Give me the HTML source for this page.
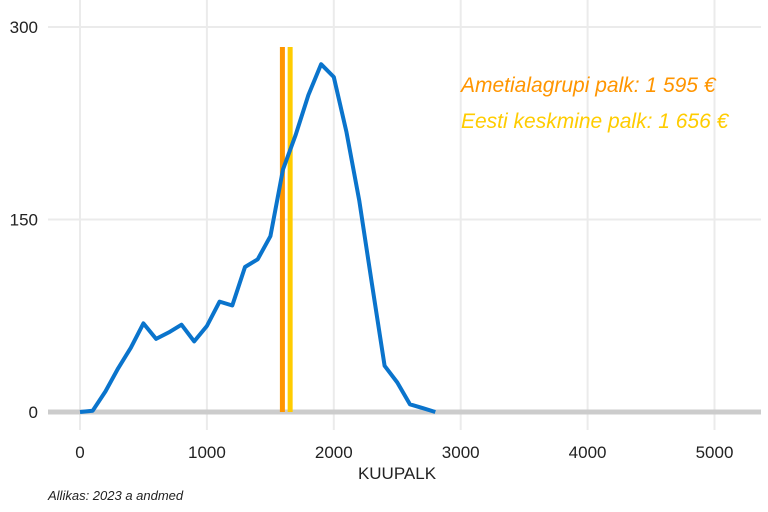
<!DOCTYPE html>
<html><head><meta charset="utf-8">
<style>
html,body{margin:0;padding:0;background:#fff;}
svg{display:block;font-family:"Liberation Sans",Arial,sans-serif;}
</style></head>
<body>
<svg id="chart" width="768" height="512" viewBox="0 0 768 512">
<g id="grid"></g>
<g id="yticks"></g>
<g id="xticks"></g>
<line x1="48" x2="761" y1="412" y2="412" stroke="#cccccc" stroke-width="5"/>
<g id="vlines"></g>
<path id="curve" fill="none" stroke="#0a74cc" stroke-width="4" stroke-linejoin="round"/>
<text x="461" y="92" font-size="21" font-style="italic" fill="#ff9500">Ametialagrupi palk: 1 595 €</text>
<text x="461" y="128" font-size="21" font-style="italic" fill="#ffcc00">Eesti keskmine palk: 1 656 €</text>
<text x="397" y="479" font-size="17" text-anchor="middle" fill="#222">KUUPALK</text>
<text x="48" y="500" font-size="13" font-style="italic" fill="#222">Allikas: 2023 a andmed</text>
</svg>
<script>
const xValues=[0,100,200,300,400,500,600,700,800,900,1000,1100,1200,1300,1400,1500,1600,1700,1800,1900,2000,2100,2200,2300,2400,2500,2600,2700,2800];
const counts=[0,1,16,34,50,69,57,62,68,55,67,86,83,113,119,137,189,216,247,271,261,218,165,100,36,23,6,3,0];
const xTicks=[0,1000,2000,3000,4000,5000];
const yTicks=[0,150,300];
const refValues=[1595,1656];
const refColors=["#ff9500","#ffcc00"];
const NS="http://www.w3.org/2000/svg";
const sx=v=>80+v*0.1269;
const sy=v=>412-v*(385/300);
function mk(tag,attrs,parent){const e=document.createElementNS(NS,tag);for(const k in attrs)e.setAttribute(k,attrs[k]);parent.appendChild(e);return e;}
const grid=document.getElementById('grid');
xTicks.forEach(t=>{
  const l=mk('line',{x1:sx(t),x2:sx(t),y1:0,y2:430,stroke:'#ebebeb','stroke-width':2},grid);
  
  
  const tx=mk('text',{x:sx(t),y:458,'font-size':17,'text-anchor':'middle',fill:'#222'},document.getElementById('xticks'));
  tx.textContent=t;
  
  
});
yTicks.forEach(t=>{
  if(t>0){const l=mk('line',{x1:48,x2:761,y1:sy(t),y2:sy(t),stroke:'#ebebeb','stroke-width':2},grid);
  
  }
  const tx=mk('text',{x:38,y:sy(t)+6,'font-size':17,'text-anchor':'end',fill:'#222'},document.getElementById('yticks'));
  tx.textContent=t;
  
  
});
refValues.forEach((v,i)=>{
  const l=mk('line',{x1:sx(v),x2:sx(v),y1:47,y2:412,stroke:refColors[i],'stroke-width':5},document.getElementById('vlines'));
  
  
});
document.getElementById('curve').setAttribute('d',xValues.map((x,i)=>(i?'L':'M')+sx(x).toFixed(1)+','+sy(counts[i]).toFixed(1)).join(''));
</script>
</body></html>
